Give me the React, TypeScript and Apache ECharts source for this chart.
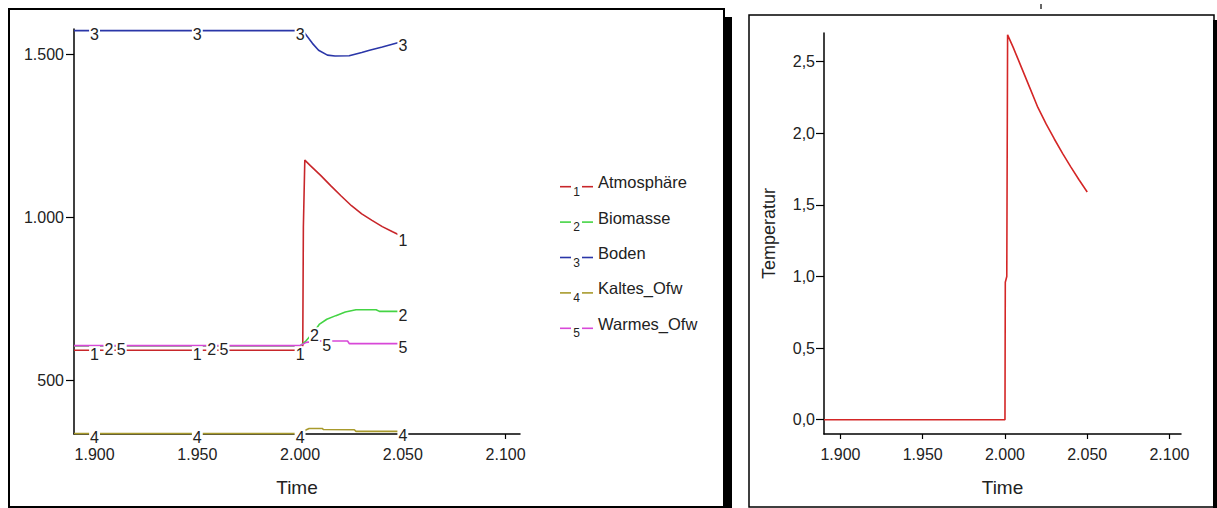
import React, { useEffect, useRef } from "react";
import * as echarts from "echarts";

// ---------- data ----------
const xTicks = [1900, 1950, 2000, 2050, 2100];
const leftYTicks = [500, 1000, 1500];
const rightYTicks = [0, 0.5, 1, 1.5, 2, 2.5];

const seriesNames = ["Atmosphäre", "Biomasse", "Boden", "Kaltes_Ofw", "Warmes_Ofw"];
const seriesColors = ["#c8262a", "#44d444", "#2a36a8", "#a89a2c", "#d848d8"];

const atmosphaere: [number, number][] = [
  [1890, 592], [1900, 592], [1950, 592], [2000, 592], [2001.3, 600], [2001.6, 970],
  [2002.3, 1175], [2005, 1158], [2010, 1128], [2015, 1096], [2020, 1065], [2025, 1035],
  [2030, 1010], [2035, 990], [2040, 971], [2045, 955], [2050, 940],
];
const biomasse: [number, number][] = [
  [1890, 605], [1907, 605], [1957, 605], [2000, 605], [2002.8, 620], [2007, 650],
  [2009.3, 671], [2013, 687], [2017.4, 698], [2022, 709], [2027.2, 716], [2037, 716],
  [2038.6, 711], [2047.6, 711], [2050, 711],
];
const boden: [number, number][] = [
  [1890, 1572], [1900, 1572], [1950, 1572], [2000, 1572], [2001.5, 1570],
  [2002.4, 1563], [2006, 1533], [2009, 1512], [2013.3, 1497], [2017, 1494],
  [2023.9, 1495], [2030, 1505], [2033.8, 1512], [2040, 1522], [2049.3, 1538], [2050, 1539],
];
const kaltesOfw: [number, number][] = [
  [1890, 336], [1900, 336], [1950, 336], [2000, 336], [2002.8, 347], [2004.4, 352],
  [2010.9, 352], [2011.2, 349], [2026.4, 348], [2027.2, 343], [2048.4, 343], [2050, 343],
];
const warmesOfw: [number, number][] = [
  [1890, 606], [1913, 606], [1963, 606], [2000, 606], [2003, 616], [2009.3, 620],
  [2013, 620], [2023.1, 620], [2024, 612], [2048.4, 612], [2050, 612],
];

// years where the series number is written on each curve
const labelYears = [
  [1900, 1950, 2000, 2050],
  [1907, 1957, 2007, 2050],
  [1900, 1950, 2000, 2050],
  [1900, 1950, 2000, 2050],
  [1913, 1963, 2013, 2050],
];

const temperatur: [number, number][] = [
  [1890, 0], [1900, 0], [1950, 0], [2000, 0], [2000.2, 0.96], [2001.1, 1.0],
  [2001.6, 2.687], [2005, 2.6], [2010, 2.46], [2015, 2.32], [2020, 2.18], [2025, 2.065],
  [2030, 1.96], [2035, 1.86], [2040, 1.765], [2045, 1.675], [2050, 1.59],
];

const stockSeries = [atmosphaere, biomasse, boden, kaltesOfw, warmesOfw];

// ---------- helpers ----------
const FONT = "'Liberation Sans', Arial, sans-serif";
const fmtDot = (v: number) => {
  const s = String(Math.round(v));
  return s.length > 3 ? s.slice(0, s.length - 3) + "." + s.slice(s.length - 3) : s;
};
const fmtComma = (v: number) => v.toFixed(1).replace(".", ",");

export default function App() {
  const ref = useRef<HTMLDivElement>(null);

  useEffect(() => {
    if (!ref.current) return;
    const chart = echarts.init(ref.current, undefined, { renderer: "svg" });

    const series: any[] = [];
    stockSeries.forEach((data, i) => {
      series.push({
        type: "line",
        name: seriesNames[i],
        xAxisIndex: 0,
        yAxisIndex: 0,
        data,
        showSymbol: false,
        symbol: "none",
        lineStyle: { color: seriesColors[i], width: 1.6 },
        z: 2,
      });
    });
    stockSeries.forEach((data, i) => {
      const pts = labelYears[i]
        .map((yr) => data.find((p) => p[0] === yr))
        .filter(Boolean);
      series.push({
        type: "scatter",
        xAxisIndex: 0,
        yAxisIndex: 0,
        data: pts,
        symbol: "circle",
        symbolSize: 1,
        itemStyle: { color: "rgba(255,255,255,0)" },
        silent: true,
        z: 5,
        label: {
          show: true,
          position: "inside",
          formatter: String(i + 1),
          fontSize: 16,
          fontFamily: FONT,
          color: "#222",
          opacity: 1,
          backgroundColor: "#fff",
          padding: [0, 1, 0, 1],
          offset: [0, 4],
        },
      });
    });
    series.push({
      type: "line",
      name: "Temperatur",
      xAxisIndex: 1,
      yAxisIndex: 1,
      data: temperatur,
      showSymbol: false,
      symbol: "none",
      lineStyle: { color: "#d42626", width: 1.6 },
    });

    const xAxisBase = (gi: number) => ({
      type: "value",
      gridIndex: gi,
      min: 1890,
      max: 2107,
      axisLine: { show: true, onZero: false, lineStyle: { color: "#000", width: 1.5 } },
      axisTick: { show: true, length: 5, customValues: xTicks, lineStyle: { color: "#000", width: 1.2 } },
      axisLabel: { customValues: xTicks, formatter: fmtDot, fontSize: 16, fontFamily: FONT, color: "#222", margin: 12 },
      splitLine: { show: false },
      name: "Time",
      nameLocation: "middle",
      nameGap: 44,
      nameTextStyle: { fontSize: 19, fontFamily: FONT, color: "#222" },
    });

    const legendGraphics: any[] = [];
    seriesNames.forEach((nm, i) => {
      const y = 186.7 + i * 35.4;
      legendGraphics.push(
        { type: "line", shape: { x1: 560, y1: y, x2: 571, y2: y }, style: { stroke: seriesColors[i], lineWidth: 1.6 } },
        { type: "line", shape: { x1: 582, y1: y, x2: 593, y2: y }, style: { stroke: seriesColors[i], lineWidth: 1.6 } },
        { type: "text", x: 576.5, y: y + 5, style: { text: String(i + 1), fontSize: 12, fontFamily: FONT, fill: "#222", align: "center", verticalAlign: "middle" } },
        { type: "text", x: 598, y: y - 4.5, style: { text: nm, fontSize: 16.5, fontFamily: FONT, fill: "#222", align: "left", verticalAlign: "middle" } }
      );
    });

    chart.setOption({
      animation: false,
      backgroundColor: "#fff",
      grid: [
        { left: 74, top: 29, width: 446, height: 405 },
        { left: 824, top: 33, width: 357, height: 401 },
      ],
      xAxis: [xAxisBase(0), xAxisBase(1)],
      yAxis: [
        {
          type: "value",
          gridIndex: 0,
          min: 335,
          max: 1577,
          axisLine: { show: true, onZero: false, lineStyle: { color: "#000", width: 1.5 } },
          axisTick: { show: true, length: 8, customValues: leftYTicks, lineStyle: { color: "#000", width: 1.2 } },
          axisLabel: { customValues: leftYTicks, formatter: fmtDot, fontSize: 16, fontFamily: FONT, color: "#222", margin: 10 },
          splitLine: { show: false },
        },
        {
          type: "value",
          gridIndex: 1,
          min: -0.1,
          max: 2.7,
          axisLine: { show: true, onZero: false, lineStyle: { color: "#000", width: 1.5 } },
          axisTick: { show: true, length: 8, customValues: rightYTicks, lineStyle: { color: "#000", width: 1.2 } },
          axisLabel: { customValues: rightYTicks, formatter: fmtComma, fontSize: 16, fontFamily: FONT, color: "#222", margin: 9 },
          splitLine: { show: false },
          name: "Temperatur",
          nameLocation: "middle",
          nameGap: 46,
          nameTextStyle: { fontSize: 18, fontFamily: FONT, color: "#222" },
        },
      ],
      graphic: [
        { type: "rect", shape: { x: 9, y: 9, width: 715, height: 498 }, style: { fill: "none", stroke: "#000", lineWidth: 2 }, z: 10 },
        { type: "rect", shape: { x: 724, y: 17, width: 8, height: 491 }, style: { fill: "#000" }, z: 10 },
        { type: "rect", shape: { x: 749, y: 15, width: 465, height: 492 }, style: { fill: "none", stroke: "#000", lineWidth: 1.5 }, z: 10 },
        { type: "rect", shape: { x: 1213, y: 20, width: 4, height: 488 }, style: { fill: "#000" }, z: 10 },
        { type: "line", shape: { x1: 1041, y1: 4, x2: 1041, y2: 9 }, style: { stroke: "#333", lineWidth: 1.5 }, z: 10 },
        ...legendGraphics,
      ],
      series,
    });

    return () => chart.dispose();
  }, []);

  return (
    <div
      ref={ref}
      style={{ position: "fixed", left: 0, top: 0, width: 1217, height: 508, background: "#fff" }}
    />
  );
}
